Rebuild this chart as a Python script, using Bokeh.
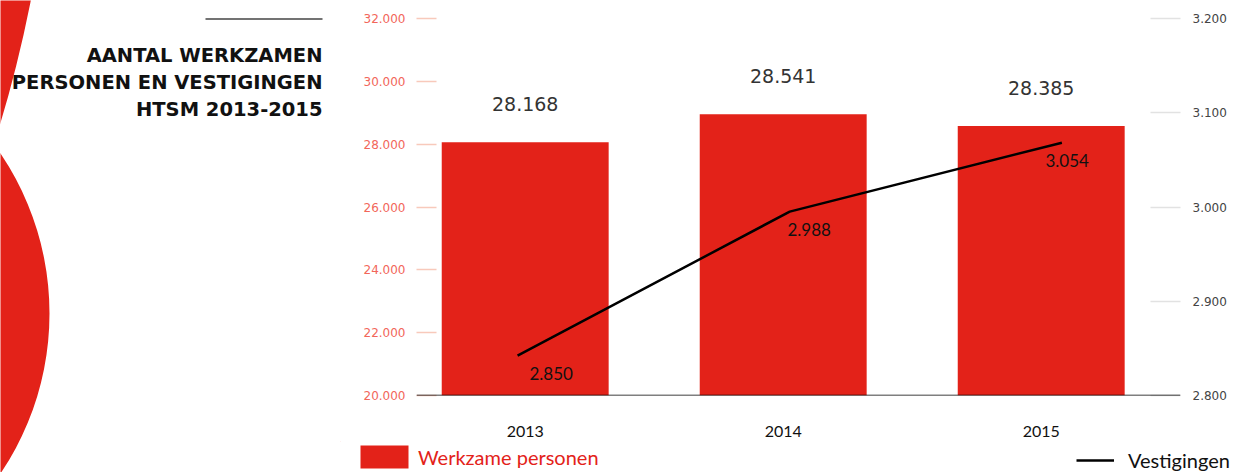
from bokeh.plotting import figure
from bokeh.layouts import row, column
from bokeh.models import Range1d, LinearAxis, FixedTicker, Span, Legend, LegendItem
from bokeh.core.properties import value
from bokeh.embed import file_html
from bokeh.resources import INLINE

# ---------------- data ----------------
years = [2013, 2014, 2015]
year_labels = ["2013", "2014", "2015"]
werkzame_personen = [28168, 28541, 28385]
werkzame_labels = ["28.168", "28.541", "28.385"]
vestigingen = [2850, 2988, 3054]
vestigingen_labels = ["2.850", "2.988", "3.054"]
left_ticks = [20000, 22000, 24000, 26000, 28000, 30000, 32000]
left_tick_labels = ["20.000", "22.000", "24.000", "26.000", "28.000", "30.000", "32.000"]
right_ticks = [2800, 2900, 3000, 3100, 3200]
right_tick_labels = ["2.800", "2.900", "3.000", "3.100", "3.200"]
title_lines = ["AANTAL WERKZAMEN", "PERSONEN EN VESTIGINGEN", "HTSM 2013-2015"]
series_names = ["Werkzame personen", "Vestigingen"]

RED = "#e32219"
SALMON = "#f2665a"
SALMON_TICK = "#f8c9bb"

# ---------------- decorative left panel (title + red shapes) ----------------
d = figure(width=340, height=472, x_range=Range1d(0, 340), y_range=Range1d(472, 0),
           x_axis_type=None, y_axis_type=None, min_border=0, toolbar_location=None,
           output_backend="svg", outline_line_color=None)
d.frame_align = False
d.circle(x=[-236.7, -1257], y=[313, -253], radius=[285.7, 1312], fill_color=RED, line_color=None)
d.segment(x0=[205], y0=[18.5], x1=[322], y1=[18.5], line_color="#444444", line_width=1.5)
d.text(x=[322, 322, 322], y=[55, 82, 108.5], text=title_lines, text_align="right",
       text_baseline="middle", text_font=value("DejaVu Sans"), text_font_style="bold",
       text_font_size="19.5px", text_color="#111111")

# ---------------- main chart ----------------
p = figure(width=893, height=441, x_range=Range1d(2012.5787, 2015.5399),
           y_range=Range1d(20000, 32000), output_backend="svg", toolbar_location=None,
           min_border_left=76, min_border_right=53, min_border_top=18, min_border_bottom=46,
           outline_line_color=None)
p.frame_align = False
p.grid.visible = False

bar_lo, bar_hi = 24790, 29817
p.extra_y_ranges = {"bars": Range1d(bar_lo, bar_hi), "liney": Range1d(2811.9, 3172.9),
                    "right": Range1d(2800, 3200)}
p.extra_x_ranges = {"linex": Range1d(2012.6286, 2015.4358)}

# left axis
ya = p.yaxis[0]
ya.ticker = FixedTicker(ticks=left_ticks)
ya.major_label_overrides = dict(zip(left_ticks, left_tick_labels))
ya.axis_line_color = None
ya.minor_tick_line_color = None
ya.major_tick_in = 20
ya.major_tick_out = 0
ya.major_tick_line_color = SALMON_TICK
ya.major_tick_line_width = 1.5
ya.major_label_standoff = 11
ya.major_label_text_color = SALMON
ya.major_label_text_font = "DejaVu Sans"
ya.major_label_text_font_size = "12px"

# right axis
ra = LinearAxis(y_range_name="right", ticker=FixedTicker(ticks=right_ticks))
ra.major_label_overrides = dict(zip(right_ticks, right_tick_labels))
ra.axis_line_color = None
ra.minor_tick_line_color = None
ra.major_tick_in = 30
ra.major_tick_out = 0
ra.major_tick_line_color = "#e2e2e2"
ra.major_tick_line_width = 1.5
ra.major_label_standoff = 12
ra.major_label_text_color = "#444444"
ra.major_label_text_font = "DejaVu Sans"
ra.major_label_text_font_size = "12px"
p.add_layout(ra, "right")

# x axis
xa = p.xaxis[0]
xa.ticker = FixedTicker(ticks=years)
xa.major_label_overrides = dict(zip(years, year_labels))
xa.axis_line_color = None
xa.major_tick_line_color = None
xa.minor_tick_line_color = None
xa.major_label_standoff = 24
xa.major_label_text_font = "Lato"
xa.major_label_text_font_size = "16px"
xa.major_label_text_color = "#111111"

bars = p.vbar(x=years, top=werkzame_personen, bottom=bar_lo, width=0.647,
              y_range_name="bars", fill_color=RED, line_color=None)
line = p.line(x=years, y=vestigingen, x_range_name="linex", y_range_name="liney",
              line_color="black", line_width=2.5)

p.text(x=years, y=werkzame_personen, text=werkzame_labels, y_range_name="bars",
       y_offset=-38, text_align="center", text_baseline="middle",
       text_font=value("DejaVu Sans"), text_font_size="19px", text_color="#333333")
p.text(x=years, y=vestigingen, text=vestigingen_labels, y_range_name="liney",
       x_offset=26, y_offset=18, text_align="center", text_baseline="middle",
       text_font=value("Lato"), text_font_size="17px", text_color="#111111")

p.add_layout(Span(location=20000, dimension="width", line_color="black", line_width=1.5))

# ---------------- legend strip ----------------
s = figure(width=893, height=31, x_range=Range1d(0, 893), y_range=Range1d(31, 0),
           x_axis_type=None, y_axis_type=None, min_border=0, toolbar_location=None,
           output_backend="svg", outline_line_color=None)
s.frame_align = False
# invisible key proxies (outside the visible range) so the legends can draw their glyphs
key_bar = s.vbar(x=[-1000], top=[-1000], bottom=[-1000], width=1, fill_color=RED, line_color=None)
key_line = s.line(x=[-1000, -999], y=[-1000, -1000], line_color="black", line_width=2.5)

leg1 = Legend(items=[LegendItem(label=series_names[0], renderers=[key_bar])],
              location=(14, 1), padding=0, margin=0, glyph_width=60, glyph_height=29,
              label_standoff=4, border_line_color=None, background_fill_alpha=0,
              label_text_font="Lato", label_text_font_size="20px", label_text_color=RED)
leg2 = Legend(items=[LegendItem(label=series_names[1], renderers=[key_line])],
              location=(736, 0), padding=0, margin=0, glyph_width=38, glyph_height=20,
              label_standoff=14, border_line_color=None, background_fill_alpha=0,
              label_text_font="Lato", label_text_font_size="20px", label_text_color="#111111")
s.add_layout(leg1, "center")
s.add_layout(leg2, "center")

layout = row(d, column(p, s))

open("out.html", "w").write(file_html(layout, INLINE))
